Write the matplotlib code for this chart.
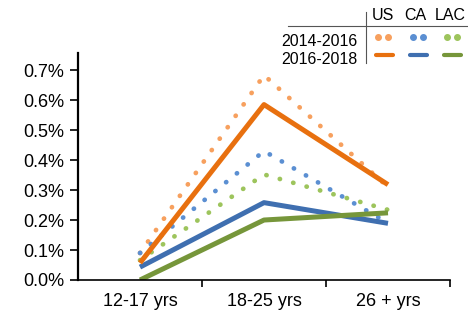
import matplotlib
matplotlib.use("Agg")
import matplotlib.pyplot as plt
from matplotlib.lines import Line2D

plt.rcParams['font.family'] = ['Liberation Sans', 'DejaVu Sans']

categories = ["12-17 yrs", "18-25 yrs", "26 + yrs"]
regions = ["US", "CA", "LAC"]
periods = ["2014-2016", "2016-2018"]
yticks = [0.0, 0.1, 0.2, 0.3, 0.4, 0.5, 0.6, 0.7]

us_1416 = [0.09, 0.683, 0.31]
ca_1416 = [0.09, 0.43, 0.19]
lac_1416 = [0.066, 0.352, 0.234]
us_1618 = [0.057, 0.585, 0.318]
ca_1618 = [0.043, 0.258, 0.189]
lac_1618 = [0.0, 0.20, 0.224]

dotted_colors = {"US": "#F7A05E", "CA": "#5B8FD2", "LAC": "#9DC45C"}
solid_colors = {"US": "#E8700F", "CA": "#3F6FB0", "LAC": "#76963A"}

fig = plt.figure(figsize=(4.68, 3.12), dpi=100)
ax = fig.add_axes([78/468, 1-280/312, (450-78)/468, (280-53)/312])

x = list(range(len(categories)))
dots = (0, (0.05, 2.9))
series_1416 = {"US": us_1416, "CA": ca_1416, "LAC": lac_1416}
series_1618 = {"US": us_1618, "CA": ca_1618, "LAC": lac_1618}
for r in regions:
    ax.plot(x, series_1416[r], color=dotted_colors[r], lw=3.4, linestyle=dots,
            dash_capstyle='round', solid_capstyle='round')
for r in ["CA", "LAC", "US"]:
    ax.plot(x, series_1618[r], color=solid_colors[r], lw=3.6, solid_capstyle='butt')

ax.set_xlim(-0.5, 2.5)
ax.set_ylim(0, 0.757)
ax.set_yticks(yticks)
ax.set_yticklabels([f"{v:.1f}%" for v in yticks], fontsize=13)
ax.set_xticks(x)
ax.set_xticklabels(categories, fontsize=13)
ax.set_xticks([0.5, 1.5, 2.5], minor=True)
ax.tick_params(axis='x', which='major', length=0, pad=9)
ax.tick_params(axis='x', which='minor', length=5, width=1.2, direction='out')
ax.tick_params(axis='y', length=6, width=1.2, direction='out', pad=4)
for s in ['top', 'right']:
    ax.spines[s].set_visible(False)
ax.spines['left'].set_linewidth(1.6)
ax.spines['bottom'].set_linewidth(1.2)

# custom legend table
def fx(px):
    return px / 468
def fy(py):
    return 1 - py / 312

fig.add_artist(Line2D([fx(288), fx(468)], [fy(26), fy(26)], color='#555555', lw=0.8))
fig.add_artist(Line2D([fx(366), fx(366)], [fy(12), fy(63)], color='#555555', lw=0.8))
hx = {"US": 383, "CA": 415, "LAC": 450}
for r in regions:
    fig.text(fx(hx[r]), fy(15), r, ha='center', va='center', fontsize=11.5)
fig.text(fx(357), fy(42), periods[0], ha='right', va='center', fontsize=11.5)
fig.text(fx(357), fy(60), periods[1], ha='right', va='center', fontsize=11.5)
dot_x = {"US": (378, 388), "CA": (413, 423), "LAC": (447, 457)}
line_x = {"US": (376, 393), "CA": (410, 427), "LAC": (444, 461)}
for r in regions:
    for dx in dot_x[r]:
        fig.add_artist(Line2D([fx(dx)], [fy(37)], marker='o', markersize=4.0,
                              color=dotted_colors[r], linestyle='none'))
    fig.add_artist(Line2D([fx(line_x[r][0]), fx(line_x[r][1])], [fy(55), fy(55)],
                          color=solid_colors[r], lw=3.0, solid_capstyle='round'))

fig.savefig("out.png", dpi=100)
